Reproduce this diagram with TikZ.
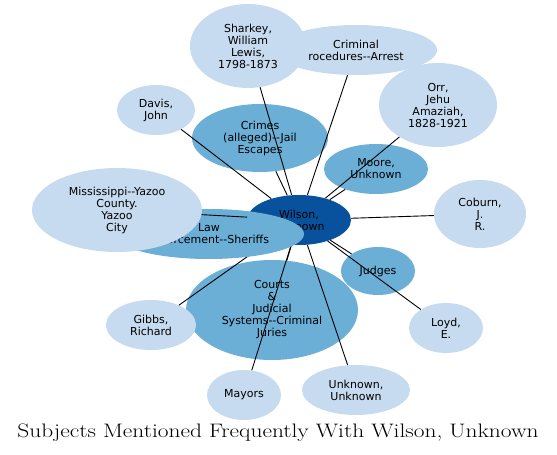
\documentclass[tikz,border=0pt]{standalone}
\usepackage{fontspec}
\newfontfamily\nodefont{DejaVu Sans}
\newfontfamily\titlefont{Latin Modern Roman}[FakeStretch=1.2]
\usetikzlibrary{shapes.geometric,backgrounds}
\definecolor{paleblue}{HTML}{C6DBEF}
\definecolor{midblue}{HTML}{6BAED6}
\definecolor{deepblue}{HTML}{08519C}

\begin{document}
\begin{tikzpicture}[x=1pt,y=-1pt,
    topic/.style={ellipse,inner sep=0pt,align=center,font=\nodefont\fontsize{11}{12}\selectfont},
    lightnode/.style={topic,fill=paleblue},
    midnode/.style={topic,fill=midblue},
    darknode/.style={topic,fill=deepblue},
    link/.style={line width=0.9pt}]
    \useasboundingbox (0,0) rectangle (557,455);
    % outer subjects
    \node[lightnode,minimum width=116pt,minimum height=84pt] (sharkey) at (248,46) {Sharkey,\\William\\Lewis,\\1798-1873};
    \node[lightnode,minimum width=162pt,minimum height=50pt] (procedures) at (356,50) {Criminal\\rocedures--Arrest};
    \node[lightnode,minimum width=118pt,minimum height=84pt] (orr) at (438,105) {Orr,\\Jehu\\Amaziah,\\1828-1921};
    \node[lightnode,minimum width=78pt,minimum height=50pt] (davis) at (156,110) {Davis,\\John};
    \node[midnode,minimum width=136pt,minimum height=68pt] (crimes) at (260,138) {Crimes\\(alleged)--Jail\\Escapes};
    \node[midnode,minimum width=104pt,minimum height=50pt] (moore) at (376,169) {Moore,\\Unknown};
    \node[lightnode,minimum width=92pt,minimum height=68pt] (coburn) at (480,214) {Coburn,\\J.\\R.};
    \node[darknode,minimum width=104pt,minimum height=50pt] (wilson) at (299,220) {Wilson,\\Unknown};
    \node[midnode,minimum width=74pt,minimum height=48pt] (judges) at (378,271) {Judges};
    \node[midnode,minimum width=172pt,minimum height=100pt] (courts) at (272,310) {Courts\\\&\\Judicial\\Systems--Criminal\\Juries};
    \node[lightnode,minimum width=90pt,minimum height=50pt] (gibbs) at (151,325) {Gibbs,\\Richard};
    \node[lightnode,minimum width=74pt,minimum height=50pt] (loyd) at (446,328) {Loyd,\\E.};
    \node[lightnode,minimum width=74pt,minimum height=50pt] (mayors) at (244,395) {Mayors};
    \node[lightnode,minimum width=108pt,minimum height=50pt] (unknown) at (356,390) {Unknown,\\Unknown};
    % links from the centre
    \foreach \target in {sharkey,procedures,orr,davis,crimes,moore,coburn,judges,courts,gibbs,loyd,mayors,unknown}
        \draw[link] (wilson) -- (\target);
    \node[midnode,minimum width=190pt,minimum height=50pt] (law) at (209,234) {Law\\Enforcement--Sheriffs};
    \node[lightnode,minimum width=170pt,minimum height=84pt] (mississippi) at (117,210) {Mississippi--Yazoo\\County.\\Yazoo\\City};
    \draw[link] (wilson) -- (mississippi);
    \begin{scope}[on background layer]
        \draw[link] (wilson.center) -- (law.center);
    \end{scope}
    \node (title) at (278,433) {\titlefont\fontsize{19.5}{22}\selectfont Subjects Mentioned Frequently With Wilson, Unknown};
\end{tikzpicture}
\end{document}
